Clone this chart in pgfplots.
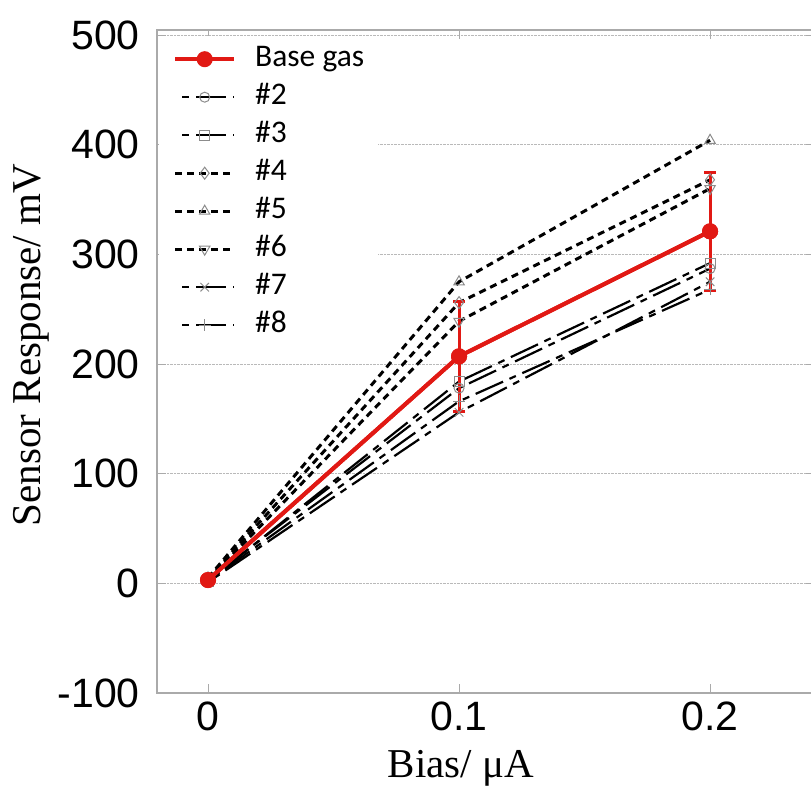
\documentclass[border=0pt]{standalone}
\usepackage{fontspec}
\setmainfont{Liberation Sans}
\newfontfamily\tnr{Liberation Serif}
\newfontfamily\calib{Carlito}
\usepackage{pgfplots}
\pgfplotsset{compat=1.18}
\definecolor{basered}{RGB}{225,25,20}
\definecolor{mkgray}{RGB}{140,140,140}
\definecolor{spinegray}{RGB}{170,170,170}

\begin{document}
\begin{tikzpicture}
\begin{axis}[
    name=ax,
    scale only axis,
    width=658pt, height=663pt,
    xmin=-0.02032, xmax=0.2418,
    ymin=-100, ymax=504.6,
    xtick={0,0.1,0.2}, xticklabels={0,0.1,0.2},
    ytick={-100,0,100,200,300,400,500},
    yticklabels={-100,0,100,200,300,400,500},
    tick align=inside, major tick length=9pt,
    tick style={spinegray, line width=1pt},
    axis line style={spinegray, line width=1.5pt},
    ymajorgrids,
    major grid style={densely dotted, gray!55, line width=1pt},
    ticklabel style={font=\fontsize{41}{46}\selectfont, inner sep=0pt},
    xticklabel style={yshift=-9pt},
    yticklabel style={xshift=-17pt},
    xlabel={Bias/ μA},
    ylabel={Sensor Response/ mV},
    label style={font=\tnr\fontsize{41}{48}\selectfont},
    xlabel style={at={(axis description cs:0.462,-0.114)}, anchor=center},
    ylabel style={at={(axis description cs:-0.1915,0.525)}, anchor=center},
    legend cell align=left,
    legend image code/.code={\draw[mark repeat=2,mark phase=2] plot coordinates {(0pt,0pt) (29.5pt,0pt) (59pt,0pt)};},
    legend style={at={(axis description cs:0,1)}, anchor=north west, xshift=2pt, yshift=-6pt,
        draw=none, fill=white, inner xsep=14pt, inner ysep=8pt,
        font=\calib\fontsize{31.5}{36}\selectfont, row sep=8pt,
        nodes={inner sep=0pt, text height=22pt, text depth=8pt},
        /tikz/every odd column/.append style={column sep=19pt}},
    longdash/.style={black, line width=2.2pt, dash pattern=on 30pt off 7pt on 7pt off 7pt, dash phase=30pt,
        mark options={solid, draw=mkgray, fill=none, line width=1pt}, mark size=5pt},
    shortdash/.style={black, line width=3pt, dash pattern=on 7pt off 5pt,
        mark options={solid, draw=mkgray, fill=none, line width=1pt}, mark size=6pt},
    basestyle/.style={basered, line width=4pt, mark=*, mark size=6pt, mark options={solid, fill=basered}},
]
% Base gas (legend entry first)
\addplot[basestyle] coordinates {(0,3) (0.1,207) (0.2,321)};
\addlegendentry{Base gas}

\addplot[longdash, mark=o] coordinates {(0,3) (0.1,178) (0.2,287)};
\addlegendentry{\#2}
\addplot[longdash, mark=square] coordinates {(0,2) (0.1,184) (0.2,292)};
\addlegendentry{\#3}
\addplot[shortdash, mark=diamond] coordinates {(0,4) (0.1,256) (0.2,368)};
\addlegendentry{\#4}
\addplot[shortdash, mark=triangle] coordinates {(0,5) (0.1,275) (0.2,404)};
\addlegendentry{\#5}
\addplot[shortdash, mark=triangle, mark options={solid, draw=mkgray, fill=none, line width=1pt, rotate=180}] coordinates {(0,3) (0.1,239) (0.2,360)};
\addlegendentry{\#6}
\addplot[longdash, mark=x, mark size=6pt] coordinates {(0,1) (0.1,156) (0.2,275)};
\addlegendentry{\#7}
\addplot[longdash, mark=+, mark size=6pt] coordinates {(0,2) (0.1,166) (0.2,268)};
\addlegendentry{\#8}

% Base gas on top, with error bars
\addplot[basestyle, forget plot,
    error bars/.cd, y dir=both, y explicit,
    error bar style={line width=3pt, basered, solid},
    error mark options={rotate=90, mark size=6pt, line width=3pt, basered}]
    coordinates {(0,3) +- (0,0) (0.1,207) +- (0,50) (0.2,321) +- (0,54)};
\end{axis}
\pgfresetboundingbox
\path[use as bounding box] ([xshift=-157pt,yshift=-95pt]ax.south west) rectangle ([xshift=654pt,yshift=693pt]ax.south west);
\end{tikzpicture}
\end{document}
